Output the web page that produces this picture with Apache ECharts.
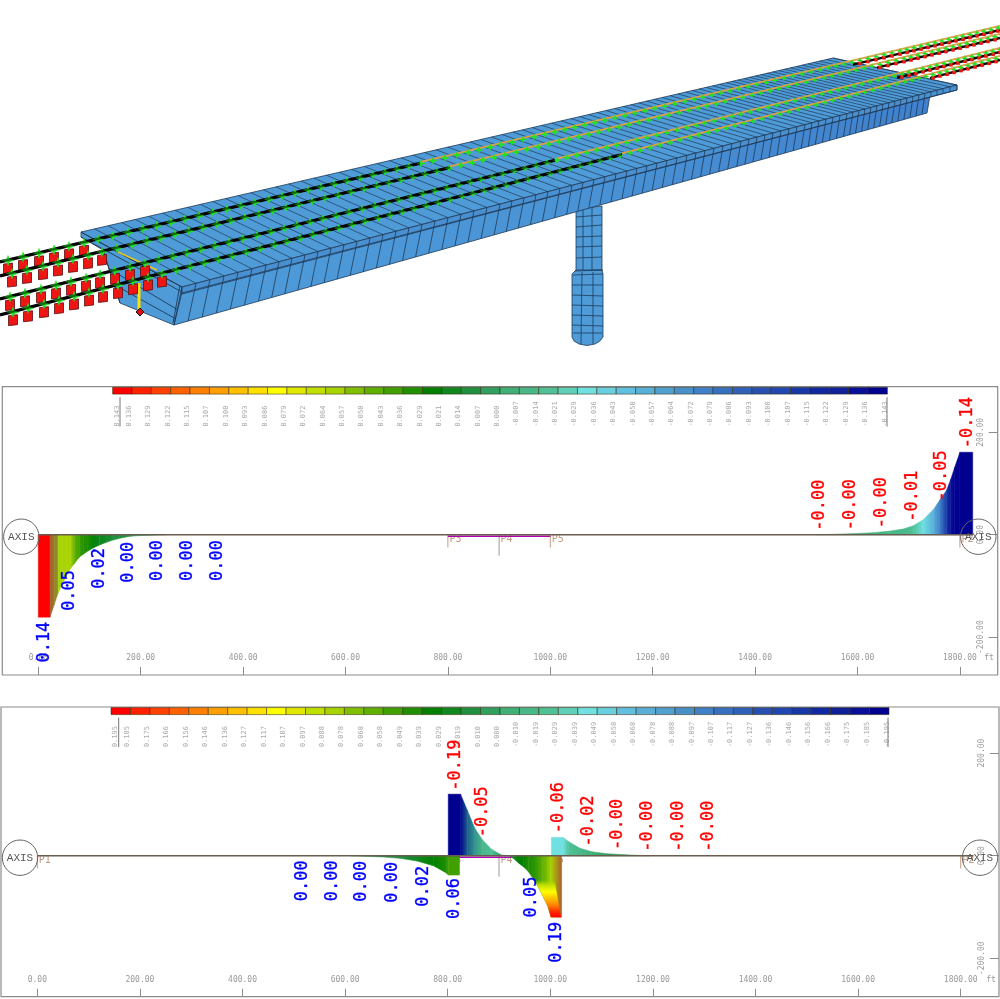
<!DOCTYPE html>
<html><head><meta charset="utf-8">
<style>html,body{margin:0;padding:0;background:#fff}#c{width:1000px;height:999px}</style>
<script src="https://cdn.jsdelivr.net/npm/echarts@6/dist/echarts.min.js"></script>
</head><body><div id="c"></div>
<script>
// ---- colour scale (40 cells + a few in-between tones seen in the diagrams)
const rampColors=['#ff0000','#ff2000','#ff4000','#ff6000','#ff8000','#ffa000','#ffc000','#ffe000','#ffff00','#e0e800','#c0e000','#a8d400','#80c000','#60b000','#40a000','#209000','#008000','#108820','#209040','#30a060','#40b078','#48b888','#50c098','#60d0b8','#70e0e0','#68d0e0','#60c0e0','#58b0d8','#50a0d0','#4890c8','#4080c8','#3870c0','#3060b8','#2850b0','#2048b0','#1838a8','#1028a0','#102098','#081098','#000090'];
const extraColors=['#a85c30','#1c5e88','#32958f','#9a7a28','#80a020'];
const allColors=rampColors.concat(extraColors);
const topScaleLabels=['0.143','0.136','0.129','0.122','0.115','0.107','0.100','0.093','0.086','0.079','0.072','0.064','0.057','0.050','0.043','0.036','0.029','0.021','0.014','0.007','0.000','-0.007','-0.014','-0.021','-0.029','-0.036','-0.043','-0.050','-0.057','-0.064','-0.072','-0.079','-0.086','-0.093','-0.100','-0.107','-0.115','-0.122','-0.129','-0.136','-0.143'];
const lowScaleLabels=['0.195','0.185','0.175','0.166','0.156','0.146','0.136','0.127','0.117','0.107','0.097','0.088','0.078','0.068','0.058','0.049','0.039','0.029','0.019','0.010','0.000','-0.010','-0.019','-0.029','-0.039','-0.049','-0.058','-0.068','-0.078','-0.088','-0.097','-0.107','-0.117','-0.127','-0.136','-0.146','-0.156','-0.166','-0.175','-0.185','-0.195'];
// ---- axes
const xTicks=[0,200,400,600,800,1000,1200,1400,1600,1800];
const yTicks=[-200,0,200];
// ---- supports
const supportNames=['P1','P3','P4','P5','P2'];
const supportFt=[0,800,900,1000,1800];
const supportDepth=[25,25,41,25,25];
// ---- upper diagram
const p1LeftX=[0,23,23,31,39,39,47,55,63,71,80,88,97,107,120,133,146,159,172,185,200,218,235,250];
const p1LeftH=[-161,-161,-161,-137,-113,-113,-96,-80,-66,-56,-44,-38,-32,-26,-20,-15,-10.5,-7,-4.5,-2.8,-1.7,-1,-0.4,0];
const p1LeftC=[0,0,40,43,44,11,11,11,11,13,14,15,15,16,17,17,18,18,18,19,19,19,19,19];
const p1RightX=[1520,1553,1592,1631,1663,1689,1709,1728,1748,1761,1774,1782,1790,1800,1825];
const p1RightH=[0,0.7,2,4,7,11,17.6,29,48.8,68,87,108,132,161,161];
const p1RightC=[18,18,19,20,21,21,22,24,27,30,35,38,39,39,39];
const p1BlueX=[10,58,116,173,230,288,348];
const p1BlueY=[-162,-61,-18,-6,-2.5,-2.5,-2.5];
const p1BlueT=['0.14','0.05','0.02','0.00','0.00','0.00','0.00'];
const p1RedX=[1812,1761,1704,1644,1584,1523];
const p1RedY=[161,57,17.6,5,1,0];
const p1RedT=['-0.14','-0.05','-0.01','-0.00','-0.00','-0.00'];
// ---- lower diagram
const p2AX=[610,642,675,707,740,772,798,801,823];
const p2AH=[0,-1.3,-2.6,-5.2,-10.4,-19.5,-34,-37.7,-37.7];
const p2AC=[19,19,18,18,17,16,15,14,14];
const p2BX=[801,825,838,853,868,886,905,920];
const p2BH=[120,120,89,53,30.5,12.3,1.3,0];
const p2BC=[39,39,41,42,21,22,19,19];
const p2CX=[920,930,939,948,957,966,976,985,995,1001,1022];
const p2CH=[0,-7,-15,-22,-31,-44,-60,-78,-99,-120,-120];
const p2CC=[19,17,16,16,15,15,14,13,12,11,40];
const p2BandX=[966,976,985,995,1001,1021,1008];
const p2BandH=[-47,-60,-78,-99,-120,-120,-47];
const p2EX=[1002,1025,1036,1058,1081,1110,1155,1193];
const p2EH=[35.7,35.7,27.3,14.3,7.8,3.9,1.3,0];
const p2EC=[24,24,22,21,20,19,18,18];
const p2BlueX=[515,573,630,690,749.5,810,960,1010];
const p2BlueY=[-1,-1,-2,-4,-11.7,-35.7,-33,-121];
const p2BlueT=['0.00','0.00','0.00','0.00','0.02','0.06','0.05','0.19'];
const p2RedX=[811.7,865.5,1013.4,1071,1128,1186,1247,1306.5];
const p2RedY=[119,28,36,10,3.3,0,0,0];
const p2RedT=['-0.19','-0.05','-0.06','-0.02','-0.00','-0.00','-0.00','-0.00'];
// ---- 3D model view in image units
const deckTop=[[81,232],[833,58],[957,85],[182,287]];
const deckFascia=[[182,287],[957,85],[957,90],[182,294]];
const webFace=[[182,292],[930,95],[927,113],[174,325]];
const endFace=[[81,232],[182,287],[182,294],[174,325],[120,303],[103,250],[81,237]];
const endLines=[[[81,237],[182,292]],[[103,250],[120,303]],[[108,268],[178,310]],[[113,284],[176,319]],[[180,285],[173,323]],[[183,288],[178,324]],[[182,287],[200,293]]];
const ribX=[182,196,210,224,238,252,266,279,292,305,318,331,344,357,370,383,396,409,422,435,448,461,474,487,500,512,524,536,548,560,572,583,594,605,616,627,637,647,657,667,677,687,696,705,714,723,732,741,749,757,765,773,781,789,797,805,812,819,826,833,840,847,853,859,865,871,877,883,889,895,901,907,913,919,925,931,937,943,950,957];
const pierUpper=[[576,209],[602,206],[602,270],[576,271]];
const pierLower=[[572,274],[576,270],[602,270],[603,274],[603,337],[600,341],[595,344],[587,345.5],[579,344],[574,341],[572,337]];
const pierRings=[[576,217,602,215],[576,227,602,225],[576,237,602,236],[576,247,602,246],[576,258,602,257],[575,271,603,270],[573,275,603,274],[572,285,603,285],[572,295,603,296],[572,305,603,306],[572,315,603,316],[572,325,603,326],[573,333,602,333]];
const pierVerticals=[[583,208,583,270],[592,207,592,270],[582,272,581,344],[593,272,593,344]];
const railStart=[262,276,299,315];
const railEnd=[27,35,49,57];
const railBlackEnd=[420,450,555,622];
const railCubeEnd=[97,115,145,163];
const railRedStart=[853,877,897,930];
const railShift=[0,4,2,5];
const tieX=[8,23,39,54,69,84,98,113,128,143,157,171,185,199,213,227,241,255,269,282,295,308,321,334,347,360,373,385,397,409,421,433,445,457,468,479,490,501,512,523,534,545,555,565,575,585,595,605,615,625,635,645,655,665,675,685,694,703,712,721,730,739,748,757,766,775,784,793,802,811,820,828,836,844,852,860,868,876,884,892,900,907,914,921,928,935,942,949,956,963,970,977,984,991,998];
const yellowBar=[[139,283],[139,310]];
const yellowDash=[[118,252],[157,270]];

const MONO='"DejaVu Sans Mono"';
const LG=echarts.graphic.LinearGradient;
const mesh='#1d3a58', blue='#4f9bd8';

function stripSeries(g,xs,hs,cs,z){
  return {type:'custom',xAxisIndex:g,yAxisIndex:g,z:z||2,silent:true,clip:false,animation:false,
    encode:{x:[0,2],y:[1,3]},
    data:xs.slice(0,-1).map((x,i)=>[x,hs[i],xs[i+1],hs[i+1],cs[i],cs[i+1]]),
    renderItem(p,api){
      const x0=api.value(0),h0=api.value(1),x1=api.value(2),h1=api.value(3);
      if(x1<=x0) return null;
      const pts=[[x0,0],[x0,h0],[x1,h1],[x1,0]].map(q=>api.coord(q));
      const fill=new LG(0,0,1,0,[{offset:0,color:allColors[api.value(4)]},{offset:1,color:allColors[api.value(5)]}]);
      return {type:'polygon',shape:{points:pts},style:{fill,stroke:fill,lineWidth:0.5}};
    }};
}
function bandSeries(g,xs,hs){
  return {type:'custom',xAxisIndex:g,yAxisIndex:g,z:3,silent:true,clip:false,animation:false,
    data:[[xs[0],hs[0]]],
    renderItem(p,api){
      const pts=xs.map((x,i)=>api.coord([x,hs[i]]));
      return {type:'polygon',shape:{points:pts},style:{fill:new LG(0,0,0,1,[
        {offset:0,color:'rgba(170,215,0,0)'},{offset:.14,color:'#c0e000'},{offset:.32,color:'#ffff00'},
        {offset:.5,color:'#ffc000'},{offset:.68,color:'#ff8000'},{offset:.84,color:'#ff3000'},{offset:1,color:'#ff0000'}])}};
    }};
}
function labelSeries(g,xs,ys,ts,color,down){
  return {type:'custom',xAxisIndex:g,yAxisIndex:g,z:6,silent:true,clip:false,animation:false,
    data:xs.map((x,i)=>[x,ys[i],i]),
    renderItem(p,api){
      const c=api.coord([api.value(0),api.value(1)]);
      return {type:'text',x:c[0]+1.5,y:c[1]+(down?4:-4),rotation:Math.PI/2,z2:10,
        style:{text:ts[api.value(2)],fill:color,stroke:color,lineWidth:.35,font:'17px '+MONO,align:down?'right':'left',verticalAlign:'middle'}};
    }};
}
function supportSeries(g){
  return {type:'custom',xAxisIndex:g,yAxisIndex:g,z:1,silent:true,clip:false,animation:false,
    data:supportFt.map((x,i)=>[x,-supportDepth[i],i]),
    renderItem(p,api){
      const a=api.coord([api.value(0),0]),b=api.coord([api.value(0),api.value(1)]);
      const n=supportNames[api.value(2)];
      return {type:'group',children:[
        {type:'line',shape:{x1:a[0],y1:a[1],x2:b[0],y2:b[1]},style:{stroke:n==='P4'?'#999':'#c49a82',lineWidth:1}},
        {type:'text',x:a[0]+1.5,y:a[1]+5,style:{text:n,fill:'#c49a82',font:'10px '+MONO,align:'left',verticalAlign:'middle'}}
      ]};
    }};
}
function baseSeries(g){
  return [
    {type:'line',xAxisIndex:g,yAxisIndex:g,z:1,symbol:'none',silent:true,animation:false,data:[[800,-3],[1000,-3]],lineStyle:{color:'#b000b0',width:1.5}},
    {type:'line',xAxisIndex:g,yAxisIndex:g,z:4,symbol:'none',silent:true,animation:false,data:[[0,0],[1825,0]],lineStyle:{color:'#6b5c50',width:1.5}}
  ];
}
function scaleSeries(g,labels,tickA,tickB){
  return [
    {type:'custom',xAxisIndex:g,yAxisIndex:g,silent:true,clip:false,animation:false,
      data:rampColors.map((c,i)=>[i,0,i]),
      renderItem(p,api){
        const i=api.value(0),a=api.coord([i,1]),b=api.coord([i+1,0]);
        return {type:'rect',shape:{x:a[0],y:a[1],width:b[0]-a[0],height:b[1]-a[1]},style:{fill:rampColors[i],stroke:'rgba(50,40,10,.65)',lineWidth:.8}};
      }},
    {type:'custom',xAxisIndex:g,yAxisIndex:g,silent:true,clip:false,animation:false,
      data:labels.map((c,i)=>[i,0,i]),
      renderItem(p,api){
        const i=api.value(0),a=api.coord([i,0]);
        const last=labels.length-1;
        const dx=i===0?4.5:(i===last?-2:-2.8);
        return {type:'text',x:a[0]+dx,y:a[1]+32.5,rotation:Math.PI/2,
          style:{text:labels[i],fill:'#aaa',font:'7px '+MONO,align:'left',verticalAlign:'middle'}};
      }},
    {type:'custom',xAxisIndex:g,yAxisIndex:g,silent:true,clip:false,animation:false,
      data:[[0,0,0],[40,0,1]],
      renderItem(p,api){
        const a=api.coord([api.value(0),0]),d=api.value(2)?tickB:tickA;
        return {type:'line',shape:{x1:a[0]+d,y1:a[1]+3,x2:a[0]+d,y2:a[1]+32.5},style:{stroke:'#777',lineWidth:1}};
      }}
  ];
}
function modelSeries(){
  return {type:'custom',xAxisIndex:0,yAxisIndex:0,silent:true,clip:false,animation:false,data:[[0,0]],
    renderItem(p,api){
      const C=q=>api.coord(q);
      const kids=[];
      const poly=(pts,fill,stroke,w)=>kids.push({type:'polygon',shape:{points:pts.map(C)},style:{fill,stroke:stroke||mesh,lineWidth:w==null?.8:w}});
      const line=(a,b,s,w)=>{const A=C(a),B=C(b);kids.push({type:'line',shape:{x1:A[0],y1:A[1],x2:B[0],y2:B[1]},style:{stroke:s,lineWidth:w}});};
      // pier
      poly(pierUpper,blue);poly(pierLower,blue);
      pierRings.forEach(r=>line([r[0],r[1]],[r[2],r[3]],mesh,.8));
      pierVerticals.forEach(r=>line([r[0],r[1]],[r[2],r[3]],mesh,.8));
      // girder
      poly(endFace,'#4f9bd8');
      endLines.forEach(l=>line(l[0],l[1],mesh,.9));
      poly(webFace,new LG(1,0,0,0,[{offset:0,color:'#4080cc'},{offset:.5,color:'#4a94d6'},{offset:1,color:blue}]));
      poly(deckTop,'#4f9bd8');
      poly(deckFascia,'#4a90d0');
      ribX.forEach(x=>{
        const t=(x-182)/775, near=[x,287-t*202], far=[81+t*752,232-t*174];
        line(far,near,mesh,.7);
        if(x<=930){const s=(x-182)/748;line(near,[174+s*753,325-s*212],mesh,.8);}
        else line(near,[x,near[1]+5],mesh,.7);
      });
      line([182,293],[957,90],mesh,.8);
      // yellow details at the left support
      line(yellowDash[0],yellowDash[1],'#e8c820',1.4);
      line(yellowBar[0],yellowBar[1],'#ffe000',3);
      poly([[136,312],[140,308],[144,312],[140,316]],'#e01010','#111',1);
      // rails
      railStart.forEach((y0,r)=>{
        const yAt=x=>y0+(railEnd[r]-y0)*x/1000;
        const lowX=tieX.map(x=>x+railShift[r]);
        lowX.forEach(x=>{
          if(x<=railCubeEnd[r]){
            const y=yAt(x)+8;
            poly([[x-4.5,y-4],[x+4.5,y-5],[x+4.5,y+5],[x-4.5,y+6]],'#ee1515','#5a1010',.8);
          }
        });
        line([railRedStart[r],yAt(railRedStart[r])+3],[1000,yAt(1000)+3],'#160404',2.4);
        lowX.forEach(x=>{
          if(x>=railRedStart[r]){const y=yAt(x)+3.5;poly([[x-1.8,y-1.8],[x+1.8,y-1.8],[x+1.8,y+1.8],[x-1.8,y+1.8]],'#f01010','#f01010',0);}
        });
        line([0,yAt(0)],[railBlackEnd[r],yAt(railBlackEnd[r])],'#050505',3.2);
        line([railBlackEnd[r],yAt(railBlackEnd[r])-1.2],[1000,yAt(1000)-1.2],'#dca048',1.8);
        lowX.forEach(x=>{
          const w=Math.max(3.5,6.5-x/250),y=yAt(x)+.5,k=w*.9;
          poly([[x-w,y],[x-k*.25,y-k*.3],[x,y-k],[x+k*.25,y-k*.3],[x+w,y],[x+k*.25,y+k*.3],[x,y+k],[x-k*.25,y+k*.3]],'#22e022','#22e022',0);
        });
        line([0,yAt(0)],[railBlackEnd[r],yAt(railBlackEnd[r])],'rgba(5,5,5,.55)',2.2);
      });
      return {type:'group',children:kids};
    }};
}
function plotAxes(g,left,right,bottom,top,xmin,xmax,ymin,ymax){
  return {
    grid:{left,top,width:right-left,height:bottom-top,show:true,borderColor:'#8c8c8c',borderWidth:1.2,backgroundColor:'transparent',containLabel:false},
    x:{type:'value',gridIndex:g,min:xmin,max:xmax,position:'bottom',
      axisLine:{show:false,onZero:false},splitLine:{show:false},
      axisTick:{show:true,inside:true,length:8,lineStyle:{color:'#8c8c8c',width:1},customValues:xTicks},
      axisLabel:{show:true,inside:true,margin:13,color:'#999',fontFamily:MONO,fontSize:8,customValues:xTicks,formatter:v=>Number(v).toFixed(2)}},
    y:{type:'value',gridIndex:g,min:ymin,max:ymax,position:'right',
      axisLine:{show:false,onZero:false},splitLine:{show:false},
      axisTick:{show:true,inside:true,length:9,lineStyle:{color:'#8c8c8c',width:1},customValues:yTicks},
      axisLabel:{show:true,inside:true,margin:13,rotate:90,color:'#999',fontFamily:MONO,fontSize:8,customValues:yTicks,formatter:v=>Number(v).toFixed(2)}}
  };
}
const hiddenAxis=(g,min,max,inv)=>({type:'value',gridIndex:g,min,max,inverse:!!inv,show:false});
const p1=plotAxes(1,2.3,997.7,675,386.7,-70.3,1873.8,-274,289);
const p2=plotAxes(2,1,999,996.7,707,-70.8,1874.6,-274.9,289.9);
const option={
  backgroundColor:'#fff',animation:false,
  grid:[
    {left:0,top:0,width:1000,height:380},p1.grid,p2.grid,
    {left:112.6,top:387.3,width:774.8,height:6.8},
    {left:111,top:707.6,width:778,height:7}
  ],
  xAxis:[hiddenAxis(0,0,1000),p1.x,p2.x,hiddenAxis(3,0,40),hiddenAxis(4,0,40)],
  yAxis:[hiddenAxis(0,0,380,true),p1.y,p2.y,hiddenAxis(3,0,1),hiddenAxis(4,0,1)],
  series:[
    modelSeries(),
    supportSeries(1),...baseSeries(1),
    stripSeries(1,p1LeftX,p1LeftH,p1LeftC),stripSeries(1,p1RightX,p1RightH,p1RightC),
    labelSeries(1,p1BlueX,p1BlueY,p1BlueT,'#0000ff',true),labelSeries(1,p1RedX,p1RedY,p1RedT,'#ff0000',false),
    ...scaleSeries(3,topScaleLabels,7.4,-0.4),
    supportSeries(2),...baseSeries(2),
    stripSeries(2,p2AX,p2AH,p2AC),stripSeries(2,p2BX,p2BH,p2BC),stripSeries(2,p2CX,p2CH,p2CC),
    bandSeries(2,p2BandX,p2BandH),stripSeries(2,p2EX,p2EH,p2EC),
    labelSeries(2,p2BlueX,p2BlueY,p2BlueT,'#0000ff',true),labelSeries(2,p2RedX,p2RedY,p2RedT,'#ff0000',false),
    ...scaleSeries(4,lowScaleLabels,7.7,-1)
  ],
  graphic:[
    ...[[21.3,536.7],[978.3,536.7],[20,857.7],[980,857.7]].flatMap(c=>[
      {type:'circle',z:50,silent:true,shape:{cx:c[0],cy:c[1],r:17.7},style:{fill:'none',stroke:'#666',lineWidth:1}},
      {type:'text',z:50,silent:true,x:c[0],y:c[1],style:{text:'AXIS',fill:'#555',font:'11px "Liberation Mono"',align:'center',verticalAlign:'middle'}}
    ]),
    {type:'text',z:50,silent:true,x:989,y:658,style:{text:'ft',fill:'#999',font:'8px '+MONO,align:'center',verticalAlign:'middle'}},
    {type:'text',z:50,silent:true,x:991,y:980,style:{text:'ft',fill:'#999',font:'8px '+MONO,align:'center',verticalAlign:'middle'}}
  ]
};
echarts.init(document.getElementById('c'),null,{renderer:'canvas'}).setOption(option);
</script></body></html>
